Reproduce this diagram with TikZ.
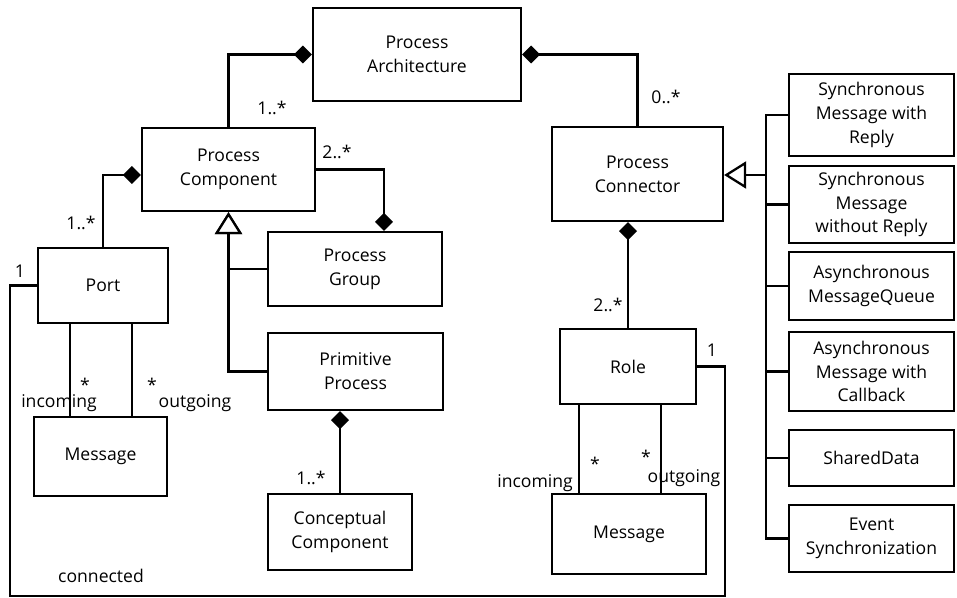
\documentclass[tikz,border=0pt]{standalone}
\usepackage{fontspec}
\setmainfont{Open Sans}
\usetikzlibrary{arrows.meta}
\begin{document}
\begin{tikzpicture}[x=0.02cm,y=-0.02cm,line width=1.3pt,
  font=\fontsize{10}{13.6}\selectfont,
  cls/.style={draw,rectangle,align=center,inner sep=2pt},
  comp/.style={-{Diamond[length=0.36cm,width=0.36cm]}},
  gen/.style={-{Triangle[length=0.44cm,width=0.54cm,fill=white]}},
  lbl/.style={inner sep=0pt}]
  \useasboundingbox (0,0) rectangle (957,598);
  % classes
  \node[cls,minimum width=4.16cm,minimum height=1.86cm] (PA) at (417,54.5) {Process\\Architecture};
  \node[cls,minimum width=3.46cm,minimum height=1.66cm] (PC) at (228.5,169.5) {Process\\Component};
  \node[cls,minimum width=3.48cm,minimum height=1.48cm] (PG) at (355,269) {Process\\Group};
  \node[cls,minimum width=3.5cm,minimum height=1.54cm] (PP) at (355.5,371.5) {Primitive\\Process};
  \node[cls,minimum width=2.88cm,minimum height=1.52cm] (CC) at (340,532) {Conceptual\\Component};
  \node[cls,minimum width=2.6cm,minimum height=1.5cm] (Port) at (103,285.5) {Port};
  \node[cls,minimum width=2.66cm,minimum height=1.58cm] (M1) at (100.5,456.5) {Message};
  \node[cls,minimum width=3.42cm,minimum height=1.88cm] (PCon) at (637.5,174) {Process\\Connector};
  \node[cls,minimum width=2.72cm,minimum height=1.5cm] (Role) at (628,366.5) {Role};
  \node[cls,minimum width=3.08cm,minimum height=1.6cm] (M2) at (629,534) {Message};
  % connector kinds
  \node[cls,minimum width=3.3cm,minimum height=1.64cm] (R1) at (871.5,115) {Synchronous\\Message with\\Reply};
  \node[cls,minimum width=3.3cm,minimum height=1.54cm] (R2) at (871.5,204.5) {Synchronous\\Message\\without Reply};
  \node[cls,minimum width=3.3cm,minimum height=1.36cm] (R3) at (871.5,286) {Asynchronous\\MessageQueue};
  \node[cls,minimum width=3.3cm,minimum height=1.58cm] (R4) at (871.5,371.5) {Asynchronous\\Message with\\Callback};
  \node[cls,minimum width=3.3cm,minimum height=1.12cm] (R5) at (871.5,458) {SharedData};
  \node[cls,minimum width=3.3cm,minimum height=1.34cm] (R6) at (871.5,538.5) {Event\\Synchronization};
  % compositions
  \draw[comp] (PC.north) |- (PA.west);
  \draw[comp] (PCon.north) |- (PA.east);
  \draw[comp] (PC.east) -| ([xshift=0.58cm]PG.north);
  \draw[comp] (Port.north) |- ([yshift=-0.11cm]PC.west);
  \draw[comp] (CC.north) -- (CC.north |- PP.south);
  \draw[comp] (Role.north) -- (Role.north |- PCon.south);
  % generalizations
  \draw[gen] (PG.west) -| (PC.south);
  \draw[gen] (PP.west) -| (PC.south);
  \coordinate (bus) at (766,175);
  \foreach \r in {R1,R2,R3,R4,R5,R6}
    \draw (\r.west) -| (bus);
  \draw[gen] (bus) -- (bus -| PCon.east);
  % messages
  \coordinate (pin) at ([xshift=-0.66cm]Port.south);
  \coordinate (pout) at ([xshift=0.58cm]Port.south);
  \draw (pin) -- (pin |- M1.north);
  \draw (pout) -- (pout |- M1.north);
  \coordinate (rin) at ([xshift=-0.98cm]Role.south);
  \coordinate (rout) at ([xshift=0.66cm]Role.south);
  \draw (rin) -- (rin |- M2.north);
  \draw (rout) -- (rout |- M2.north);
  % connected
  \coordinate (cl) at (10,596);
  \coordinate (cr) at (725,596);
  \draw (Port.west) -| (cl) -- (cr) |- (Role.east);
  % labels
  \node[lbl] (m1) at (272,108) {1..*};
  \node[lbl] (m2) at (337,152) {2..*};
  \node[lbl] (m3) at (81,223) {1..*};
  \node[lbl] (m4) at (20,271) {1};
  \node[lbl] (m5) at (311,478) {1..*};
  \node[lbl] (m6) at (666,97) {0..*};
  \node[lbl] (m7) at (608,305) {2..*};
  \node[lbl] (m8) at (712,350) {1};
  \node[lbl] (s1) at (85,385) {*};
  \node[lbl] (s2) at (152,385) {*};
  \node[lbl] (s3) at (595,464) {*};
  \node[lbl] (s4) at (646,457) {*};
  \node[lbl] (in1) at (59,403) {incoming};
  \node[lbl] (out1) at (195,403) {outgoing};
  \node[lbl] (in2) at (535,483) {incoming};
  \node[lbl] (out2) at (684,478) {outgoing};
  \node[lbl] (con) at (101,576) {connected};
\end{tikzpicture}
\end{document}
